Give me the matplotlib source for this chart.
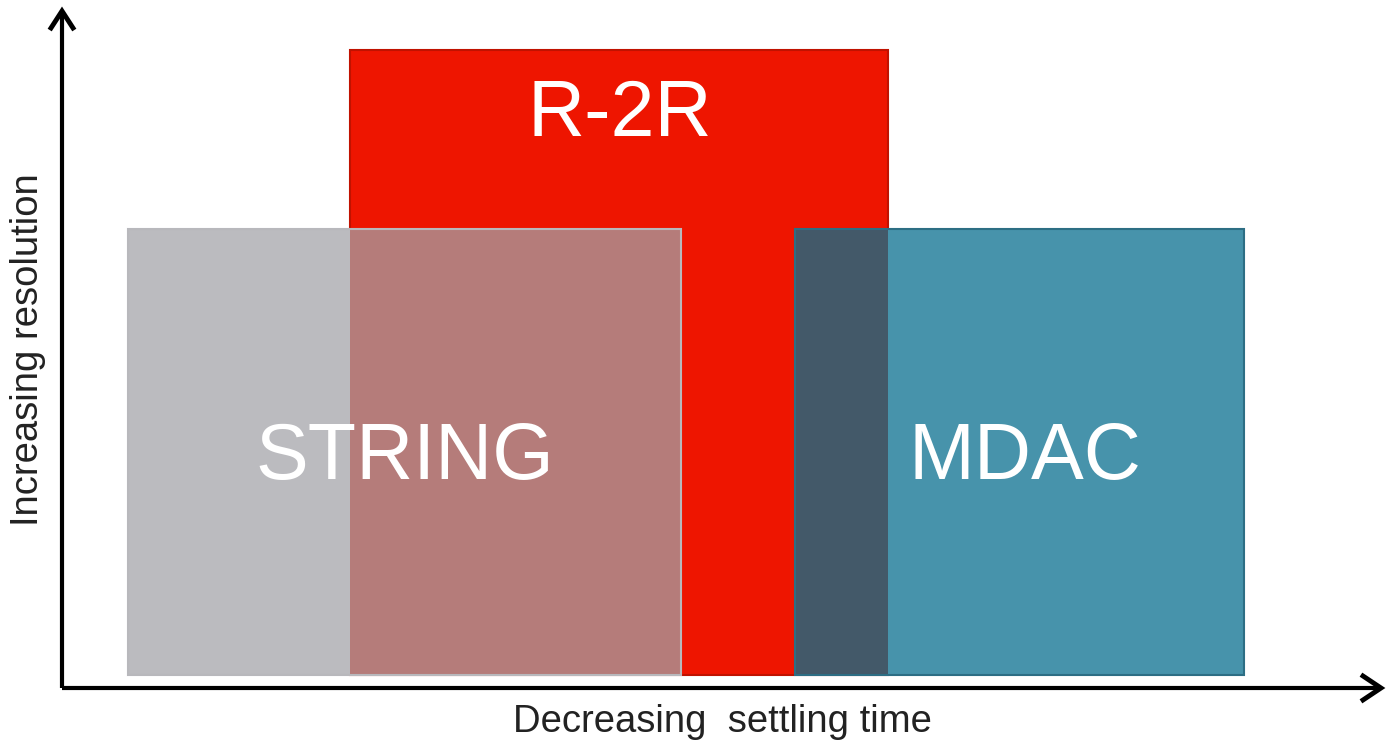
import matplotlib
matplotlib.use("Agg")
import matplotlib.pyplot as plt
from matplotlib.patches import Rectangle

plt.rcParams['font.family'] = ['Liberation Sans', 'DejaVu Sans']

# Data (arbitrary units: x = settling-time axis, y = resolution axis)
labels = ["STRING", "R-2R", "MDAC"]
x_start = [66, 288, 733]
x_end = [619, 826, 1182]
y_bottom = [13, 13, 13]
y_top = [459, 638, 459]
fill_colors = ["#BBBBBF", "#EE1500", "#4793AB"]
edge_colors = ["#B8B8BC", "#C01200", "#2D6E84"]
overlap_colors = {("STRING", "R-2R"): "#B57C7A", ("MDAC", "R-2R"): "#435969"}
label_x = [343, 558, 963]
label_y = [229, 573, 230]
x_label = "Decreasing  settling time"
y_label = "Increasing resolution"

fig = plt.figure(figsize=(13.89, 7.44), dpi=100)
W, H = 1389, 744
ax = fig.add_axes([62 / W, (744 - 688) / H, (1382 - 62) / W, (688 - 8) / H])
ax.set_xlim(0, 1320)
ax.set_ylim(0, 680)
ax.axis('off')

order = ["R-2R", "STRING", "MDAC"]
z = 2
for name in order:
    i = labels.index(name)
    ax.add_patch(Rectangle((x_start[i], y_bottom[i]), x_end[i] - x_start[i], y_top[i] - y_bottom[i],
                           facecolor=fill_colors[i], edgecolor='none', lw=0, zorder=z))
    for (a, b), col in overlap_colors.items():
        if a == name:
            j = labels.index(b)
            x0 = max(x_start[i], x_start[j]); x1 = min(x_end[i], x_end[j])
            y0 = max(y_bottom[i], y_bottom[j]); y1 = min(y_top[i], y_top[j])
            if x1 > x0 and y1 > y0:
                ax.add_patch(Rectangle((x0, y0), x1 - x0, y1 - y0, facecolor=col,
                                       edgecolor='none', lw=0, zorder=z + 0.1))
    ax.add_patch(Rectangle((x_start[i], y_bottom[i]), x_end[i] - x_start[i], y_top[i] - y_bottom[i],
                           facecolor='none', edgecolor=edge_colors[i], lw=1.5, zorder=z + 0.2))
    z += 1

for i, name in enumerate(labels):
    ax.text(label_x[i], label_y[i], name, color='white', fontsize=57, ha='center', va='center',
            zorder=10)

# axes arrows
ax.plot([0, 1316], [0, 0], color='black', lw=3, solid_capstyle='butt', clip_on=False, zorder=11)
ax.plot([0, 0], [0, 674], color='black', lw=3, solid_capstyle='butt', clip_on=False, zorder=11)
ax.plot([1301, 1319, 1301], [12, 0, -12], color='black', lw=3.5, clip_on=False, zorder=11,
        solid_joinstyle='miter')
ax.plot([-11, 0, 11], [660, 677, 660], color='black', lw=3.5, clip_on=False, zorder=11,
        solid_joinstyle='miter')

fig.text(722 / W, 1 - 722 / H, x_label, fontsize=27.5, ha='center', va='center', color='#222222')
fig.text(28 / W, 1 - 350 / H, y_label, fontsize=27.5, ha='center', va='center', rotation=90,
         color='#222222')

fig.savefig("out.png", dpi=100)
